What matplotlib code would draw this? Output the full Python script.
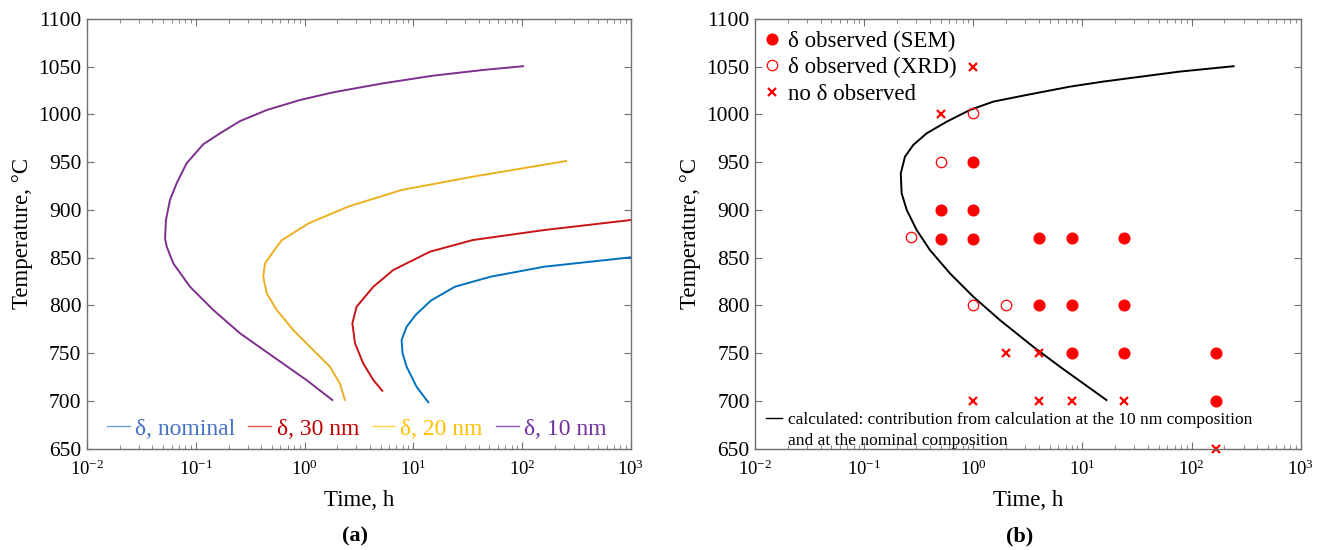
import numpy as np
import matplotlib
matplotlib.use('Agg')
import matplotlib.pyplot as plt
from matplotlib.lines import Line2D

plt.rcParams['font.family'] = ['Liberation Serif', 'DejaVu Serif']
plt.rcParams['mathtext.fontset'] = 'stix'

# ---- panel (a): calculated delta C-curves (time in h, temperature in C)
t_nominal = [1000, 160, 51.4, 24.1, 14.5, 10.5, 8.67, 7.80, 7.95, 8.67, 10.7, 13.7]
T_nominal = [850.3, 840.5, 830, 819.5, 805, 790, 777.6, 763.7, 750, 735.7, 714.7, 698.5]

t_30nm = [1000, 160, 35.2, 14.2, 6.53, 4.29, 3.01, 2.75, 2.91, 3.46, 4.29, 5.18]
T_30nm = [889.4, 878.9, 868.4, 856.2, 837.0, 819.5, 798.6, 781.2, 760.2, 739.2, 721.7, 710.5]

t_20nm = [254, 35.2, 7.76, 2.50, 1.09, 0.62, 0.555, 0.433, 0.417, 0.449,
          0.555, 0.787, 1.20, 1.71, 2.11, 2.35]
T_20nm = [951.2, 934.8, 920.8, 903.3, 885.9, 868.4, 861.4, 844.0, 830.0, 812.6,
          795.1, 774.1, 753.2, 735.7, 718.3, 700.8]

t_10nm = [102, 44.0, 15.2, 5.28, 1.84, 0.908, 0.449, 0.255, 0.167, 0.117, 0.0824,
          0.0667, 0.0579, 0.0532, 0.0522, 0.0541, 0.0621, 0.0885, 0.145, 0.255, 0.515,
          1.04, 1.80]
T_10nm = [1050.5, 1046.6, 1040.6, 1032.6, 1023.2, 1015.1, 1004.6, 993.0, 980.2, 968.7,
          948.8, 927.9, 910.4, 889.4, 870.0, 861.4, 844.0, 819.5, 795.1, 770.7, 746.2,
          721.8, 700.8]

# ---- panel (b): calculated curve + observations
t_calc = [243, 76.9, 15.3, 7.67, 3.08, 1.52, 0.931, 0.569, 0.373, 0.281, 0.236, 0.216,
          0.220, 0.245, 0.302, 0.400, 0.610, 1.0, 1.75, 3.54, 6.22, 16.6]
T_calc = [1050.5, 1044.8, 1034.3, 1029.1, 1020.4, 1013.4, 1004.7, 992.4, 980.2, 968.0,
          955.7, 938.3, 917.4, 899.9, 878.9, 857.9, 833.5, 809.0, 784.6, 756.6, 735.7,
          700.8]

t_sem = [1, 0.5, 1, 0.5, 1, 4, 8, 24, 4, 8, 24, 8, 24, 168, 168]
T_sem = [950, 900, 900, 869, 869, 871, 871, 871, 800, 800, 800, 750, 750, 750, 700]

t_xrd = [1, 0.5, 0.27, 1, 2]
T_xrd = [1002, 950, 872, 800, 800]

t_none = [1, 0.5, 2, 4, 1, 4, 8, 24, 168]
T_none = [1050, 1000, 750, 750, 700, 700, 700, 700, 650]

curve_labels = ['δ, nominal', 'δ, 30 nm', 'δ, 20 nm', 'δ, 10 nm']
curve_colors = ['#0072BD', '#C81414', '#EDB120', '#7E2F8E']
legend_line_colors = ['#6F9FD8', '#E05A5A', '#FFD24A', '#8E5BB8']
legend_text_colors = ['#4472C4', '#C00000', '#FFC000', '#7030A0']
RED = '#FF0000'


def style_axes(ax):
    ax.set_xscale('log')
    ax.set_xlim(1e-2, 1e3)
    ax.set_ylim(650, 1100)
    ax.set_yticks(np.arange(650, 1101, 50))
    ax.tick_params(which='both', direction='in', top=True, right=True, color='#707070')
    ax.tick_params(which='major', length=5, width=0.8)
    ax.tick_params(which='minor', length=3, width=0.6)
    ax.tick_params(axis='y', labelsize=15.5, pad=4)
    ax.tick_params(axis='x', labelsize=13.5, pad=8)
    for sp in ax.spines.values():
        sp.set_color('#707070')
        sp.set_linewidth(1.0)
    ax.set_xlabel('Time, h', fontsize=16.5, labelpad=8)
    ax.set_ylabel('Temperature, °C', fontsize=16.5, labelpad=4)


fig = plt.figure(figsize=(13.18, 5.5), dpi=100)
ax1 = fig.add_axes([0.066, 0.1845, 0.4127, 0.781])
ax2 = fig.add_axes([0.573, 0.1845, 0.4138, 0.781])

# Panel (a)
curves = [(t_nominal, T_nominal), (t_30nm, T_30nm), (t_20nm, T_20nm), (t_10nm, T_10nm)]
for (t, T), c in zip(curves, curve_colors):
    ax1.plot(t, T, color=c, lw=1.4, solid_joinstyle='round')
style_axes(ax1)

handles = [Line2D([], [], color=c, lw=1.0) for c in legend_line_colors]
leg = ax1.legend(handles, curve_labels, loc='center', bbox_to_anchor=(0.496, 0.046),
                 ncol=4, frameon=False, fontsize=17, handlelength=0.96,
                 handletextpad=0.24, columnspacing=0.55)
for txt, c in zip(leg.get_texts(), legend_text_colors):
    txt.set_color(c)

# Panel (b)
ax2.plot(t_calc, T_calc, color='black', lw=1.4, solid_joinstyle='round')
h_sem, = ax2.plot(t_sem, T_sem, 'o', color=RED, ms=7.7, ls='none')
h_xrd, = ax2.plot(t_xrd, T_xrd, 'o', mfc='none', mec=RED, mew=0.9, ms=7.5, ls='none')
h_none, = ax2.plot(t_none, T_none, 'x', color=RED, mew=1.6, ms=5.3, ls='none',
                   clip_on=False)
style_axes(ax2)

leg1 = ax2.legend([h_sem, h_xrd, h_none],
                  ['δ observed (SEM)', 'δ observed (XRD)', 'no δ observed'],
                  loc='upper left', bbox_to_anchor=(-0.009, 1.0), frameon=False,
                  fontsize=16.5, handlelength=0.87, handletextpad=0.26,
                  labelspacing=0.25, borderaxespad=0.0, borderpad=0.5)
ax2.add_artist(leg1)
blank = Line2D([], [], color='none')
ax2.legend([Line2D([], [], color='black', lw=1.0), blank],
           ['calculated: contribution from calculation at the 10 nm composition',
            'and at the nominal composition'],
           loc='center left', bbox_to_anchor=(0.0, 0.043), frameon=False,
           fontsize=12.5, handlelength=0.92, handletextpad=0.29, labelspacing=0.28,
           borderaxespad=0.25, borderpad=0.4)

fig.text(355 / 1318, 1 - 536 / 550, '(a)', ha='center', va='center', fontsize=16,
         fontweight='bold')
fig.text(1020 / 1318, 1 - 536 / 550, '(b)', ha='center', va='center', fontsize=16,
         fontweight='bold')

fig.savefig('out.png', dpi=100)
